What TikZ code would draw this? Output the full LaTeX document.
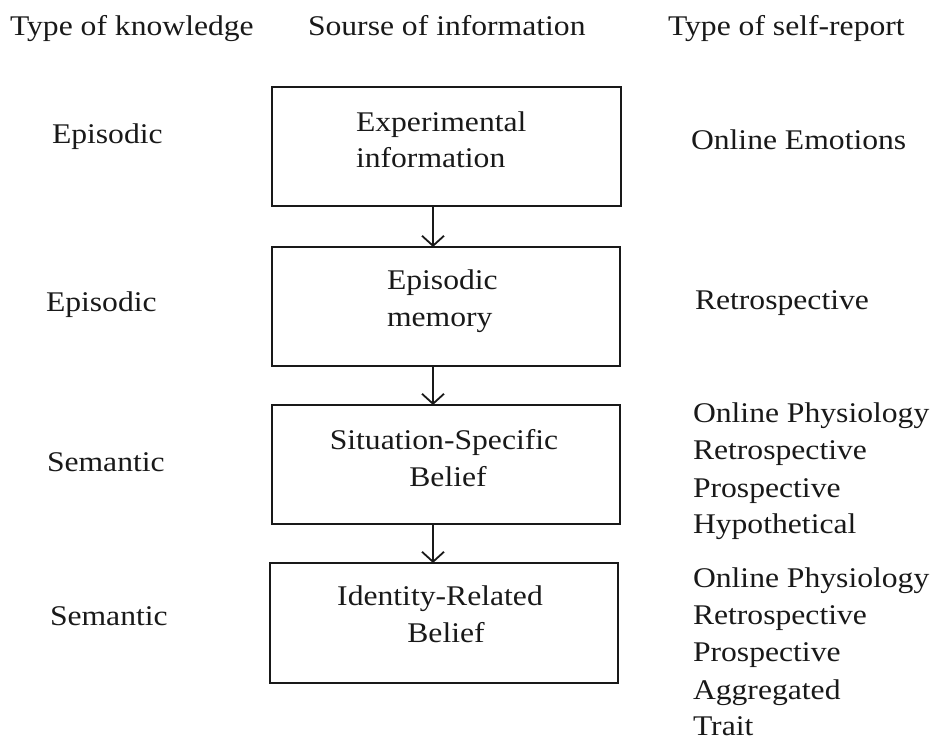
\documentclass[tikz,border=0pt]{standalone}
\usepackage{fontspec}
\setmainfont{Liberation Serif}[FakeStretch=1.11]
\usetikzlibrary{arrows.meta}
\begin{document}
\begin{tikzpicture}[x=1pt,y=-1pt,
  every node/.style={inner sep=0pt, outer sep=0pt, font=\fontsize{28.5}{37.5}\selectfont, text=black!90},
  flowbox/.style={draw=black!90, line width=2.2pt, anchor=north west},
  lbl/.style={anchor=base west},
  ctr/.style={anchor=base},
  arr/.style={draw=black!90, line width=1.8pt, -{Straight Barb[length=10pt,width=22pt,line width=1.8pt]}}]
\useasboundingbox (0,0) rectangle (935,740);
% headers
\node[lbl] (h1) at (10,35) {Type of knowledge};
\node[lbl] (h2) at (308,35) {Sourse of information};
\node[lbl] (h3) at (668,35) {Type of self-report};
% boxes
\node[flowbox, minimum width=349pt, minimum height=119pt] (b1) at (272,87) {};
\node[flowbox, minimum width=348pt, minimum height=119pt] (b2) at (272,247) {};
\node[flowbox, minimum width=348pt, minimum height=119pt] (b3) at (272,405) {};
\node[flowbox, minimum width=348pt, minimum height=120pt] (b4) at (270,563) {};
% box texts
\node[lbl] (t1a) at (356,131) {Experimental};
\node[lbl] (t1b) at (356,167) {information};
\node[lbl] (t2a) at (387,289) {Episodic};
\node[lbl] (t2b) at (387,326) {memory};
\node[ctr] (t3a) at (444,449) {Situation-Specific};
\node[ctr] (t3b) at (448,486) {Belief};
\node[ctr] (t4a) at (440,605) {Identity-Related};
\node[ctr] (t4b) at (446,642) {Belief};
% arrows
\coordinate (ax) at (433,0);
\draw[arr] (b1.south -| ax) -- (b2.north -| ax);
\draw[arr] (b2.south -| ax) -- (b3.north -| ax);
\draw[arr] (b3.south -| ax) -- (b4.north -| ax);
% left column
\node[lbl] (k1) at (52,143) {Episodic};
\node[lbl] (k2) at (46,311) {Episodic};
\node[lbl] (k3) at (47,471) {Semantic};
\node[lbl] (k4) at (50,625) {Semantic};
% right column
\node[lbl] (r1) at (691,149) {Online Emotions};
\node[lbl] (r2) at (695,309) {Retrospective};
\node[lbl] (r3a) at (693,422) {Online Physiology};
\node[lbl] (r3b) at (693,459.5) {Retrospective};
\node[lbl] (r3c) at (693,497) {Prospective};
\node[lbl] (r3d) at (693,533) {Hypothetical};
\node[lbl] (r4a) at (693,587) {Online Physiology};
\node[lbl] (r4b) at (693,624) {Retrospective};
\node[lbl] (r4c) at (693,661.5) {Prospective};
\node[lbl] (r4d) at (693,699) {Aggregated};
\node[lbl] (r4e) at (693,735) {Trait};
\end{tikzpicture}
\end{document}
